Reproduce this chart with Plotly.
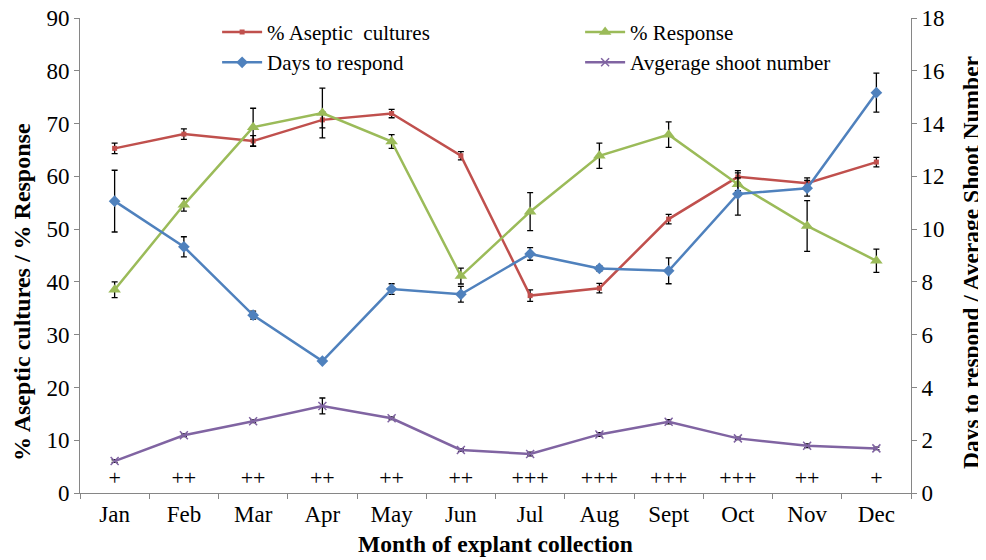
import plotly.graph_objects as go

months = ["Jan", "Feb", "Mar", "Apr", "May", "Jun", "Jul", "Aug", "Sept", "Oct", "Nov", "Dec"]

aseptic = [65.3, 68.0, 66.7, 70.7, 71.9, 63.9, 37.4, 38.8, 51.9, 59.9, 58.7, 62.7]
aseptic_err = [1.0, 1.0, 1.0, 1.5, 0.8, 0.8, 1.1, 0.9, 0.9, 1.2, 1.0, 0.9]

response = [38.5, 54.6, 69.3, 72.0, 66.6, 41.1, 53.3, 63.9, 67.9, 58.5, 50.6, 44.0]
response_err = [1.5, 1.2, 3.6, 4.7, 1.3, 1.5, 3.6, 2.4, 2.4, 1.2, 4.8, 2.2]

days = [11.06, 9.33, 6.74, 5.0, 7.73, 7.53, 9.06, 8.51, 8.42, 11.33, 11.55, 15.17]
days_err = [1.17, 0.38, 0.15, 0.0, 0.2, 0.3, 0.24, 0.1, 0.49, 0.8, 0.3, 0.74]

shoots = [1.21, 2.19, 2.72, 3.30, 2.83, 1.63, 1.48, 2.22, 2.70, 2.07, 1.79, 1.69]
shoots_err = [0.05, 0.05, 0.05, 0.3, 0.05, 0.05, 0.07, 0.07, 0.08, 0.05, 0.07, 0.05]

response_marks = ["+", "++", "++", "++", "++", "++", "+++", "+++", "+++", "+++", "++", "+"]
marks_level = [2.6] * 12

FONT = "Liberation Serif"
RED, GREEN, BLUE, PURPLE = "#C0504D", "#9BBB59", "#4F81BD", "#8064A2"

def eb(vals):
    return dict(type="data", array=vals, visible=True, color="black", thickness=1.3, width=3)

fig = go.Figure()
fig.add_trace(go.Scatter(x=months, y=aseptic, name="% Aseptic  cultures", mode="lines+markers",
                         line=dict(color=RED, width=2.5), marker=dict(symbol="square", size=5, color=RED),
                         error_y=eb(aseptic_err)))
fig.add_trace(go.Scatter(x=months, y=response, name="% Response", mode="lines+markers",
                         line=dict(color=GREEN, width=2.5), marker=dict(symbol="triangle-up", size=11, color=GREEN),
                         error_y=eb(response_err)))
fig.add_trace(go.Scatter(x=months, y=days, name="Days to respond", mode="lines+markers", yaxis="y2",
                         line=dict(color=BLUE, width=2.5), marker=dict(symbol="diamond", size=9, color=BLUE),
                         error_y=eb(days_err)))
fig.add_trace(go.Scatter(x=months, y=shoots, name="Avgerage shoot number", mode="lines+markers", yaxis="y2",
                         line=dict(color=PURPLE, width=2.5),
                         marker=dict(symbol="x-thin", size=8, line=dict(color=PURPLE, width=1.5)),
                         error_y=eb(shoots_err)))
fig.add_trace(go.Scatter(x=months, y=marks_level, mode="text", text=response_marks, showlegend=False,
                         textfont=dict(family=FONT, size=22, color="black"), hoverinfo="skip"))

fig.update_layout(
    width=978, height=552,
    margin=dict(l=72, r=75, t=10, b=67, autoexpand=False),
    paper_bgcolor="white", plot_bgcolor="white",
    font=dict(family=FONT, size=20, color="black"),
    showlegend=True,
    legend=dict(orientation="h", x=0.165, xanchor="left", y=1.013, yanchor="top",
                entrywidth=308, entrywidthmode="pixels", traceorder="normal",
                font=dict(family=FONT, size=21), itemwidth=40, bgcolor="rgba(0,0,0,0)",
                tracegroupgap=0),
    xaxis=dict(type="category", range=[-0.5, 11.5], showline=True, linecolor="#868686", linewidth=1,
               ticks="outside", tickson="boundaries", ticklen=5, tickcolor="#868686",
               showgrid=False, zeroline=False, ticklabeloverflow="allow",
               title=dict(text="<b>Month of explant collection</b>", font=dict(family=FONT, size=23.5), standoff=9),
               tickfont=dict(family=FONT, size=23)),
    yaxis=dict(range=[0, 90], dtick=10, showline=True, linecolor="#868686", linewidth=1,
               ticks="outside", ticklen=5, tickcolor="#868686", showgrid=False, zeroline=False,
               ticklabeloverflow="allow",
               tickfont=dict(family=FONT, size=23)),
    yaxis2=dict(range=[0, 18], dtick=2, overlaying="y", side="right", showline=True, linecolor="#868686",
                linewidth=1, ticks="outside", ticklen=5, tickcolor="#868686", showgrid=False, zeroline=False,
                ticklabeloverflow="allow",
                tickfont=dict(family=FONT, size=23)),
    annotations=[
        dict(text="<b>% Aseptic cultures / % Response</b>", textangle=-90, xref="paper", yref="paper",
             x=-58/831, y=(493-292)/475, xanchor="center", yanchor="middle", showarrow=False,
             font=dict(family=FONT, size=24)),
        dict(text="<b>Days to respond / Average Shoot Number</b>", textangle=-90, xref="paper", yref="paper",
             x=1 + 60/831, y=(493-262)/475, xanchor="center", yanchor="middle", showarrow=False,
             font=dict(family=FONT, size=23.5)),
    ],
)

fig.write_html("out.html")
